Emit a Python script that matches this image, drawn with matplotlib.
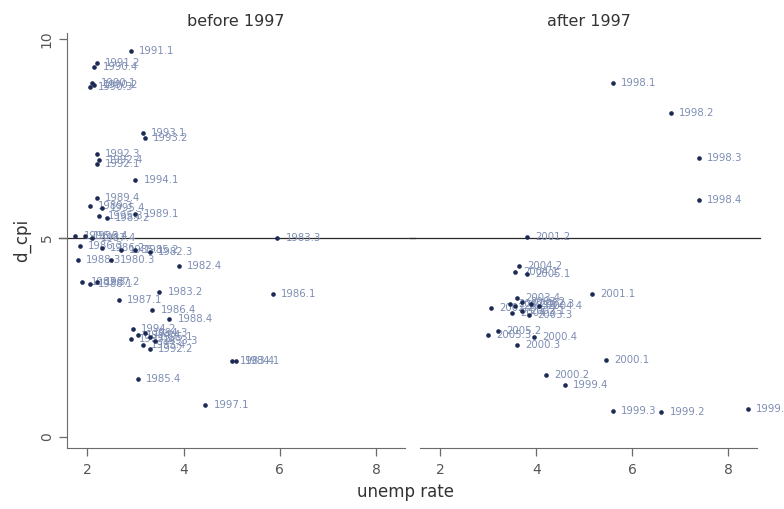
import numpy as np
import matplotlib
matplotlib.use('Agg')
import matplotlib.pyplot as plt

plt.rcParams['font.family'] = ['DejaVu Sans']

# before 1997: unemployment rate, d_cpi, quarter label
pre_unemp = [2.9, 2.2, 2.15, 2.1, 2.15, 2.05, 3.15, 3.2, 2.2, 2.25, 2.2, 3.0,
             2.2, 2.05, 2.3, 2.25, 2.4, 3.0, 1.75, 1.95, 2.1, 1.85, 2.3, 2.7,
             3.0, 3.3, 1.8, 2.5, 3.9, 1.9, 2.05, 2.2, 3.5, 2.65, 3.35, 3.7,
             2.95, 3.2, 3.05, 3.3, 2.9, 3.4, 3.15, 3.3, 5.0, 5.1, 3.05, 4.45,
             5.95, 5.85]
pre_dcpi = [9.7, 9.4, 9.3, 8.9, 8.85, 8.8, 7.65, 7.5, 7.1, 6.95, 6.85, 6.45,
            6.0, 5.8, 5.75, 5.55, 5.5, 5.6, 5.05, 5.05, 5.0, 4.8, 4.75, 4.7,
            4.7, 4.65, 4.45, 4.45, 4.3, 3.9, 3.85, 3.9, 3.65, 3.45, 3.2, 2.95,
            2.7, 2.6, 2.55, 2.5, 2.45, 2.4, 2.3, 2.2, 1.9, 1.9, 1.45, 0.8,
            5.0, 3.6]
pre_label = ['1991.1', '1991.2', '1990.4', '1990.1', '1990.2', '1990.3',
             '1993.1', '1993.2', '1992.3', '1992.4', '1992.1', '1994.1',
             '1989.4', '1989.3', '1995.4', '1995.3', '1989.2', '1989.1',
             '1996.3', '1996.4', '1987.4', '1986.3', '1986.2', '1985.1',
             '1985.2', '1982.3', '1988.3', '1980.3', '1982.4', '1987.3',
             '1988.1', '1987.2', '1983.2', '1987.1', '1986.4', '1988.4',
             '1994.2', '1994.3', '1994.4', '1995.1', '1995.2', '1993.3',
             '1993.4', '1992.2', '1983.4', '1984.1', '1985.4', '1997.1',
             '1983.3', '1986.1']

# after 1997
post_unemp = [5.6, 6.8, 7.38, 7.38, 3.8, 3.65, 3.55, 3.8, 5.17, 3.6, 3.05,
              3.45, 3.55, 3.7, 3.9, 4.05, 3.5, 3.7, 3.85, 3.2, 3.0, 3.95, 3.6,
              5.45, 4.2, 4.6, 5.6, 6.6, 8.4]
post_dcpi = [8.9, 8.13, 7.02, 5.96, 5.02, 4.3, 4.15, 4.1, 3.6, 3.5, 3.25,
             3.35, 3.3, 3.4, 3.35, 3.3, 3.1, 3.15, 3.05, 2.65, 2.55, 2.5, 2.3,
             1.92, 1.55, 1.3, 0.66, 0.63, 0.7]
post_label = ['1998.1', '1998.2', '1998.3', '1998.4', '2001.2', '2004.2',
              '2004.1', '2005.1', '2001.1', '2003.4', '2002.2', '2002.4',
              '2003.1', '2003.2', '2002.3', '2004.4', '2004.3', '2002.1',
              '2003.3', '2005.2', '2005.3', '2000.4', '2000.3', '2000.1',
              '2000.2', '1999.4', '1999.3', '1999.2', '1999.1']

panels = [('before 1997', pre_unemp, pre_dcpi, pre_label),
          ('after 1997', post_unemp, post_dcpi, post_label)]

marker_col = '#1c2a55'
label_col = '#7d8db3'
axis_col = '#6b6b6b'

fig = plt.figure(figsize=(7.84, 5.09), dpi=100, facecolor='white')
ax_l = fig.add_axes([0.0855, 0.120, 0.431, 0.815])
ax_r = fig.add_axes([0.5357, 0.120, 0.430, 0.815])

# reference line at d_cpi = 5 runs across both panels and the gap between them
line_span = [(-0.025, 1.03), (-0.03, 1.01)]

for ax, (title, xs, ys, labs), (x0, x1) in zip([ax_l, ax_r], panels, line_span):
    ax.scatter(xs, ys, s=11, color=marker_col, zorder=3, linewidths=0)
    for x, y, t in zip(xs, ys, labs):
        ax.annotate(t, (x, y), xytext=(6, 0), textcoords='offset points',
                    va='center', ha='left', fontsize=7.3, color=label_col,
                    zorder=2, annotation_clip=False)
    ax.axhline(5, xmin=x0, xmax=x1, color='#2a2a2a', linewidth=0.9,
               zorder=1, clip_on=False)
    ax.set_xlim(1.58, 8.6)
    ax.set_ylim(-0.28, 10.15)
    ax.set_xticks([2, 4, 6, 8])
    ax.set_title(title, fontsize=11.5, color='#333333', pad=5)
    for side in ['top', 'right']:
        ax.spines[side].set_visible(False)
    ax.spines['bottom'].set_color(axis_col)
    ax.spines['left'].set_color(axis_col)
    ax.tick_params(axis='x', colors=axis_col, labelcolor='#555555',
                   labelsize=10, length=6, width=0.9, pad=5)
    ax.tick_params(axis='y', colors=axis_col, labelcolor='#555555',
                   labelsize=10, length=6, width=0.9)

ax_l.set_yticks([0, 5, 10])
for lbl in ax_l.get_yticklabels():
    lbl.set_rotation(90)
    lbl.set_va('center')
ax_l.set_ylabel('d_cpi', fontsize=12, color='#333333', labelpad=6)

ax_r.spines['left'].set_visible(False)
ax_r.set_yticks([])

fig.text(0.517, 0.033, 'unemp rate', ha='center', va='center',
         fontsize=12, color='#333333')

fig.savefig('out.png', dpi=100, facecolor='white')
